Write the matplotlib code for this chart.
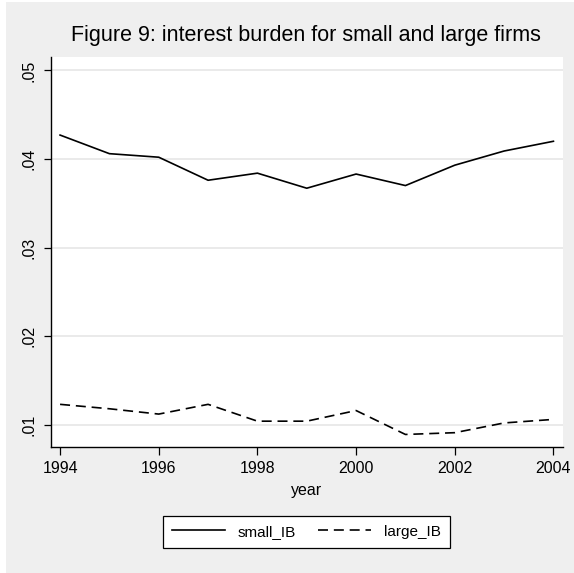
import matplotlib
matplotlib.use('Agg')
import matplotlib.pyplot as plt
from matplotlib.patches import Rectangle

years = [1994, 1995, 1996, 1997, 1998, 1999, 2000, 2001, 2002, 2003, 2004]
small_IB = [0.0427, 0.0406, 0.0402, 0.0376, 0.0384, 0.0367, 0.0383, 0.0370, 0.0393, 0.0409, 0.0420]
large_IB = [0.0123, 0.0118, 0.0112, 0.0123, 0.0104, 0.0104, 0.0116, 0.0089, 0.0091, 0.0102, 0.0106]
xticks = [1994, 1996, 1998, 2000, 2002, 2004]
yticks = [0.01, 0.02, 0.03, 0.04, 0.05]
ylabels = ['.01', '.02', '.03', '.04', '.05']

plt.rcParams['font.family'] = ['Liberation Sans', 'DejaVu Sans']

W, H = 574, 573
fig = plt.figure(figsize=(W / 100, H / 100), dpi=100, facecolor='#efefef')
# white strip on the left/top edge like the original export
fig.patches.append(Rectangle((0, 0), 6 / W, 1, transform=fig.transFigure,
                             facecolor='white', edgecolor='none', zorder=-1))
fig.patches.append(Rectangle((0, 1 - 1.5 / H), 1, 1.5 / H, transform=fig.transFigure,
                             facecolor='white', edgecolor='none', zorder=-1))

left, right, top, bottom = 50.7, 563.3, 57.3, 447.3
ax = fig.add_axes([left / W, 1 - bottom / H, (right - left) / W, (bottom - top) / H])
ax.set_facecolor('white')

l1, = ax.plot(years, small_IB, color='black', lw=1.2, label='small_IB')
l2, = ax.plot(years, large_IB, color='black', lw=1.2, linestyle=(0, (6, 3.5)), label='large_IB')

ax.set_xlim(1993.81, 2004.2)
ax.set_ylim(0.00745, 0.05148)
ax.set_xticks(xticks)
ax.set_xticklabels([str(t) for t in xticks], fontsize=11.5)
ax.set_yticks(yticks)
ax.set_yticklabels(ylabels, fontsize=11.5, rotation=90, va='center')
ax.grid(axis='y', color='#e6e6e6', lw=1.2)
ax.set_axisbelow(True)
ax.tick_params(axis='x', length=6, width=0.9, pad=4)
ax.tick_params(axis='y', length=5, width=0.9, pad=5)

for s in ['top', 'right']:
    ax.spines[s].set_visible(False)
for s in ['left', 'bottom']:
    ax.spines[s].set_linewidth(1.0)
    ax.spines[s].set_color('black')

ax.set_xlabel('year', fontsize=11.5, va='center')
ax.xaxis.set_label_coords(0.5, (bottom - 490) / (bottom - top))

fig.text(305.5 / W, 1 - 35 / H, 'Figure 9: interest burden for small and large firms',
         ha='center', va='center', fontsize=15.5)

leg = ax.legend(handles=[l1, l2], loc='center', ncol=2,
                bbox_to_anchor=(306.5 / W, 1 - 531.7 / H), bbox_transform=fig.transFigure,
                fontsize=11, frameon=True, fancybox=False, framealpha=1,
                edgecolor='black', handlelength=3.46, handletextpad=0.85,
                columnspacing=1.47, borderpad=0.6)
leg.get_frame().set_linewidth(0.9)

fig.savefig('out.png', dpi=100, facecolor=fig.get_facecolor())
